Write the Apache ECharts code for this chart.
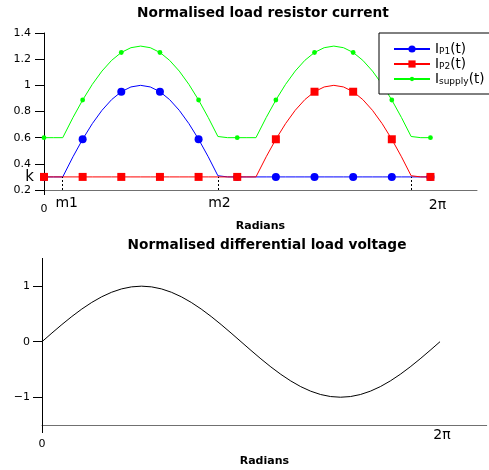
<!DOCTYPE html>
<html><head><meta charset="utf-8">
<script src="https://cdn.jsdelivr.net/npm/echarts@6/dist/echarts.min.js"></script>
<style>html,body{margin:0;padding:0;background:#fff}#c{width:489px;height:470px}</style>
</head><body><div id="c"></div>
<script>
// ---- data ----
const tTop = [0, 0.1571, 0.3047, 0.3142, 0.4712, 0.6283, 0.7854, 0.9425, 1.0996, 1.2566,
  1.4137, 1.5708, 1.7279, 1.885, 2.042, 2.1991, 2.3562, 2.5133, 2.6704, 2.8274,
  2.8369, 2.9845, 3.1416, 3.2987, 3.4463, 3.4558, 3.6128, 3.7699, 3.927, 4.0841,
  4.2412, 4.3982, 4.5553, 4.7124, 4.8695, 5.0265, 5.1836, 5.3407, 5.4978, 5.6549,
  5.8119, 5.969, 5.9785, 6.1261, 6.2832];
const iP1 = [0.3, 0.3, 0.3, 0.309, 0.454, 0.5878, 0.7071, 0.809, 0.891, 0.9511,
  0.9877, 1, 0.9877, 0.9511, 0.891, 0.809, 0.7071, 0.5878, 0.454, 0.309,
  0.3, 0.3, 0.3, 0.3, 0.3, 0.3, 0.3, 0.3, 0.3, 0.3,
  0.3, 0.3, 0.3, 0.3, 0.3, 0.3, 0.3, 0.3, 0.3, 0.3,
  0.3, 0.3, 0.3, 0.3, 0.3];
const iP2 = [0.3, 0.3, 0.3, 0.3, 0.3, 0.3, 0.3, 0.3, 0.3, 0.3,
  0.3, 0.3, 0.3, 0.3, 0.3, 0.3, 0.3, 0.3, 0.3, 0.3,
  0.3, 0.3, 0.3, 0.3, 0.3, 0.309, 0.454, 0.5878, 0.7071, 0.809,
  0.891, 0.9511, 0.9877, 1, 0.9877, 0.9511, 0.891, 0.809, 0.7071, 0.5878,
  0.454, 0.309, 0.3, 0.3, 0.3];
const iSupply = [0.6, 0.6, 0.6, 0.609, 0.754, 0.8878, 1.0071, 1.109, 1.191, 1.2511,
  1.2877, 1.3, 1.2877, 1.2511, 1.191, 1.109, 1.0071, 0.8878, 0.754, 0.609,
  0.6, 0.6, 0.6, 0.6, 0.6, 0.609, 0.754, 0.8878, 1.0071, 1.109,
  1.191, 1.2511, 1.2877, 1.3, 1.2877, 1.2511, 1.191, 1.109, 1.0071, 0.8878,
  0.754, 0.609, 0.6, 0.6, 0.6];
const markerIdx = [0, 5, 9, 13, 17, 22, 27, 31, 35, 39, 44];
const kLevel = 0.3;
const kinks = [0.3047, 2.8369, 5.9785];
const xTopTickValues = [0, 0.3047, 2.8369, 6.2832];
const xTopTickLabels = ['0', 'm1', 'm2', '2π'];
const yTopTickValues = [0.2, 0.4, 0.6, 0.8, 1.0, 1.2, 1.4];
const yTopLabelValues = [0.2, 0.3, 0.4, 0.6, 0.8, 1.0, 1.2, 1.4];
const yTopLabels = ['0.2', 'k', '0.4', '0.6', '0.8', '1', '1.2', '1.4'];

const tBottom = [0, 0.1571, 0.3142, 0.4712, 0.6283, 0.7854, 0.9425, 1.0996, 1.2566, 1.4137,
  1.5708, 1.7279, 1.885, 2.042, 2.1991, 2.3562, 2.5133, 2.6704, 2.8274, 2.9845,
  3.1416, 3.2987, 3.4558, 3.6128, 3.7699, 3.927, 4.0841, 4.2412, 4.3982, 4.5553,
  4.7124, 4.8695, 5.0265, 5.1836, 5.3407, 5.4978, 5.6549, 5.8119, 5.969, 6.1261, 6.2832];
const vDiff = [0, 0.1564, 0.309, 0.454, 0.5878, 0.7071, 0.809, 0.891, 0.9511, 0.9877,
  1, 0.9877, 0.9511, 0.891, 0.809, 0.7071, 0.5878, 0.454, 0.309, 0.1564,
  0, -0.1564, -0.309, -0.454, -0.5878, -0.7071, -0.809, -0.891, -0.9511, -0.9877,
  -1, -0.9877, -0.9511, -0.891, -0.809, -0.7071, -0.5878, -0.454, -0.309, -0.1564, 0];
const yBottomTicks = [-1, 0, 1];
const yBottomLabels = ['−1', '0', '1'];
const xBottomTickValues = [0, 6.2832];
const xBottomTickLabels = ['0', '2π'];

const seriesNames = ['IP1', 'IP2', 'Isupply'];
const seriesSubs = ['P1', 'P2', 'supply'];
const titles = ['Normalised load resistor current', 'Normalised differential load voltage'];
const axisName = 'Radians';

// ---- chart ----
const FF = 'DejaVu Sans';
const chart = echarts.init(document.getElementById('c'), null, {renderer: 'canvas'});
// small dot centred in a larger (empty) box, so it renders smaller than the other markers
const smallDot = 'path://M0 0M10 10M5 2A3 3 0 1 1 5 8A3 3 0 1 1 5 2Z';

function lookup(vals, labels, v) {
  const i = vals.findIndex(x => Math.abs(x - v) < 1e-6);
  return i >= 0 ? labels[i] : '';
}
function buildData(ys) {
  return tTop.map((t, i) => markerIdx.includes(i) ? [t, ys[i]] : {value: [t, ys[i]], symbol: 'none'});
}

const option = {
  animation: false,
  backgroundColor: '#fff',
  graphic: [
    {type: 'text', x: 263, y: 13, style: {text: titles[0], font: 'bold 13.7px "DejaVu Sans"', fill: '#000', align: 'center', verticalAlign: 'middle'}},
    {type: 'text', x: 267, y: 245, style: {text: titles[1], font: 'bold 13.7px "DejaVu Sans"', fill: '#000', align: 'center', verticalAlign: 'middle'}}
  ],
  grid: [
    {left: 44, top: 33, width: 433, height: 157},
    {left: 42, top: 258.4, width: 444.7, height: 166.6}
  ],
  xAxis: [
    {
      type: 'value', gridIndex: 0, min: 0, max: 7.04,
      axisLine: {onZero: false, lineStyle: {color: '#707070', width: 1}},
      axisTick: {show: true, customValues: [0], length: 5, lineStyle: {color: '#000'}},
      splitLine: {show: false},
      axisLabel: {
        customValues: xTopTickValues, margin: 6, color: '#000', fontFamily: FF,
        formatter: v => {
          const l = lookup(xTopTickValues, xTopTickLabels, v);
          if (l === '0') return '{z|0}';
          if (l === 'm1') return '{a|m1}';
          if (l === '2π') return '{p|2π}';
          return '{b|' + l + '}';
        },
        rich: {
          z: {fontSize: 11, fontFamily: FF, color: '#000', padding: [8, 0, 0, 0]},
          a: {fontSize: 14, fontFamily: FF, color: '#000', padding: [0, 0, 0, 8]},
          b: {fontSize: 14, fontFamily: FF, color: '#000', padding: [0, 0, 0, 2]},
          p: {fontSize: 14, fontFamily: FF, color: '#000', padding: [2, 0, 0, 14]}
        }
      },
      name: axisName, nameLocation: 'middle', nameGap: 31,
      nameTextStyle: {fontFamily: FF, fontWeight: 'bold', fontSize: 11, color: '#000'}
    },
    {
      type: 'value', gridIndex: 1, min: 0, max: 7.02,
      axisLine: {onZero: false, lineStyle: {color: '#707070', width: 1}},
      axisTick: {show: true, customValues: [0], length: 8, lineStyle: {color: '#000'}},
      splitLine: {show: false},
      axisLabel: {
        customValues: xBottomTickValues, margin: 3, color: '#000', fontFamily: FF,
        formatter: v => {
          const l = lookup(xBottomTickValues, xBottomTickLabels, v);
          return l === '0' ? '{z|0}' : '{p|' + l + '}';
        },
        rich: {
          z: {fontSize: 11, fontFamily: FF, color: '#000', padding: [11, 0, 0, 0]},
          p: {fontSize: 14, fontFamily: FF, color: '#000', padding: [0, 0, 0, 4]}
        }
      },
      name: axisName, nameLocation: 'middle', nameGap: 31,
      nameTextStyle: {fontFamily: FF, fontWeight: 'bold', fontSize: 11, color: '#000'}
    }
  ],
  yAxis: [
    {
      type: 'value', gridIndex: 0, min: 0.2, max: 1.4,
      axisLine: {show: true, onZero: false, lineStyle: {color: '#000', width: 1}},
      axisTick: {show: true, customValues: yTopTickValues, length: 9, lineStyle: {color: '#000'}},
      splitLine: {show: false},
      axisLabel: {
        customValues: yTopLabelValues, margin: 10, color: '#000', fontFamily: FF, fontSize: 11,
        formatter: v => {
          const l = lookup(yTopLabelValues, yTopLabels, v);
          return l === 'k' ? '{k|k}' : '{n|' + l + '}';
        },
        rich: {
          k: {fontSize: 15, fontFamily: FF, color: '#000'},
          n: {fontSize: 11, fontFamily: FF, color: '#000', padding: [0, 3, 0, 0]}
        }
      }
    },
    {
      type: 'value', gridIndex: 1, min: -1.5, max: 1.5,
      axisLine: {show: true, onZero: false, lineStyle: {color: '#000', width: 1}},
      axisTick: {show: true, customValues: yBottomTicks, length: 9, lineStyle: {color: '#000'}},
      splitLine: {show: false},
      axisLabel: {
        customValues: yBottomTicks, margin: 12, color: '#000', fontFamily: FF, fontSize: 11,
        formatter: v => lookup(yBottomTicks, yBottomLabels, v)
      }
    }
  ],
  legend: {
    left: 379, top: 33, orient: 'vertical',
    data: seriesNames,
    borderColor: '#000', borderWidth: 1, backgroundColor: '#fff',
    padding: [9, 30, 8, 14], itemGap: 1, itemWidth: 36, itemHeight: 9,
    formatter: name => '{m|I}{s|' + seriesSubs[seriesNames.indexOf(name)] + '}{m|(t)}',
    textStyle: {
      rich: {
        m: {fontSize: 13.5, fontFamily: FF, color: '#000', lineHeight: 14},
        s: {fontSize: 9, fontFamily: FF, color: '#000', lineHeight: 8, verticalAlign: 'bottom'}
      }
    },
    z: 10
  },
  series: [
    {
      name: seriesNames[0], type: 'line', xAxisIndex: 0, yAxisIndex: 0,
      data: buildData(iP1), color: '#0000ff',
      symbol: 'circle', symbolSize: 8, lineStyle: {width: 1, color: '#0000ff'},
      itemStyle: {color: '#0000ff'},
      markLine: {
        silent: true, symbol: 'none', label: {show: false},
        lineStyle: {type: [2, 2], color: '#000', width: 1},
        data: kinks.map(m => [{coord: [m, 0.2]}, {coord: [m, kLevel]}])
      }
    },
    {
      name: seriesNames[1], type: 'line', xAxisIndex: 0, yAxisIndex: 0,
      data: buildData(iP2), color: '#ff0000',
      symbol: 'rect', symbolSize: 8, lineStyle: {width: 1, color: '#ff0000'},
      itemStyle: {color: '#ff0000'}
    },
    {
      name: seriesNames[2], type: 'line', xAxisIndex: 0, yAxisIndex: 0,
      data: buildData(iSupply), color: '#00ff00',
      symbol: smallDot, symbolSize: 8, lineStyle: {width: 1, color: '#00ff00'},
      itemStyle: {color: '#00ff00'}
    },
    {
      name: 'vdiff', type: 'line', xAxisIndex: 1, yAxisIndex: 1,
      data: tBottom.map((t, i) => [t, vDiff[i]]),
      symbol: 'none', lineStyle: {width: 1, color: '#000'}, color: '#000'
    }
  ]
};
chart.setOption(option);
</script>
</body></html>
